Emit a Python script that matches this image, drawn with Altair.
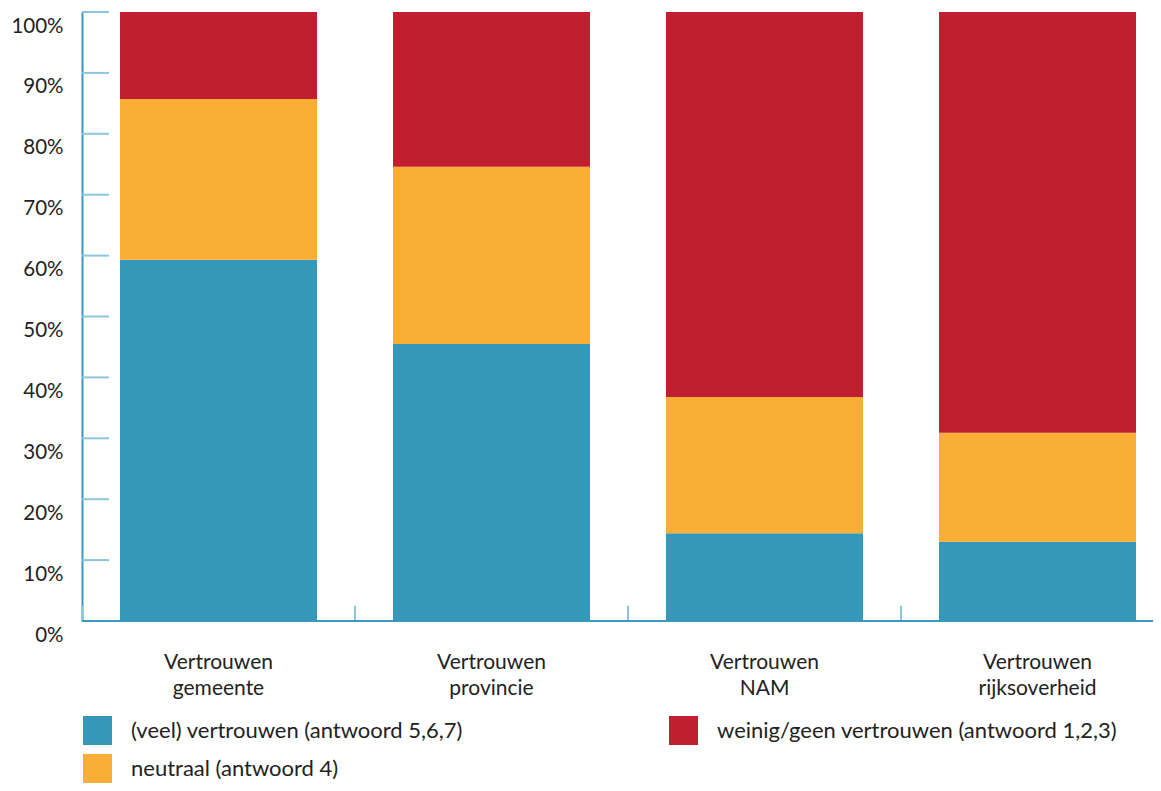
import altair as alt
import pandas as pd

categories = ["Vertrouwen gemeente", "Vertrouwen provincie", "Vertrouwen NAM", "Vertrouwen rijksoverheid"]
series = [
    "(veel) vertrouwen (antwoord 5,6,7)",
    "neutraal (antwoord 4)",
    "weinig/geen vertrouwen (antwoord 1,2,3)",
]
veel = [59.3, 45.5, 14.4, 13.0]
neutraal = [26.4, 29.1, 22.4, 17.9]
weinig = [14.3, 25.4, 63.2, 69.1]
series_colors = ["#3598bb", "#fbae36", "#c01f30"]
y_ticks = [0, 10, 20, 30, 40, 50, 60, 70, 80, 90, 100]

rows = []
for i, c in enumerate(categories):
    for j, vals in enumerate([veel, neutraal, weinig]):
        rows.append({"cat": c, "serie": series[j], "pct": vals[i], "stack": j})
df = pd.DataFrame(rows)

AXIS_BLUE = "#3a98c0"
TICK_BLUE = "#8cc6dd"
TEXT = "#222222"
FONT = "Lato"

PLOT_W = 1071
x_scale = alt.Scale(range=[0, 1092], paddingInner=0, paddingOuter=0)
y_scale = alt.Scale(domain=[0, 100])

bars = alt.Chart(df).mark_bar(width=alt.RelativeBandSize(197 / 273)).encode(
    x=alt.X(
        "cat:N",
        sort=categories,
        scale=x_scale,
        title=None,
        axis=alt.Axis(labelExpr="split(datum.label, ' ')"),
    ),
    y=alt.Y(
        "pct:Q",
        stack="zero",
        scale=y_scale,
        title=None,
        axis=alt.Axis(values=y_ticks, labelExpr="datum.value + '%'"),
    ),
    color=alt.Color(
        "serie:N",
        scale=alt.Scale(domain=series, range=series_colors),
        legend=alt.Legend(
            orient="none",
            legendX=1,
            legendY=704,
            columns=2,
            title=None,
            symbolType="square",
            symbolSize=841,
            symbolStrokeWidth=0,
            symbolOpacity=1,
            labelFontSize=22,
            labelFont=FONT,
            labelColor=TEXT,
            labelOffset=19,
            labelBaseline="middle",
            columnPadding=206,
            rowPadding=9,
            labelLimit=600,
            padding=0,
        ),
    ),
    order=alt.Order("stack:Q", sort="ascending"),
)

ytick_df = pd.DataFrame({"tick": y_ticks})
yticks = alt.Chart(ytick_df).mark_rule(color=TICK_BLUE, strokeWidth=2).encode(
    y=alt.Y("tick:Q", scale=y_scale, title=None),
    x=alt.value(0),
    x2=alt.value(27),
)

xtick_df = pd.DataFrame({"cat": categories})
xticks = alt.Chart(xtick_df).mark_rule(color=TICK_BLUE, strokeWidth=2).encode(
    x=alt.X("cat:N", sort=categories, bandPosition=0, title=None),
    y=alt.Y(datum=0, scale=y_scale, title=None),
    y2=alt.datum(2.5),
)

baseline = alt.Chart(xtick_df).mark_rule(color=AXIS_BLUE, strokeWidth=2).encode(
    y=alt.Y(datum=0, scale=y_scale, title=None),
    x=alt.value(0),
    x2=alt.value(PLOT_W),
)

chart = (
    alt.layer(yticks, xticks, baseline, bars)
    .properties(
        width=PLOT_W,
        height=609,
        padding={"left": 74, "top": 4, "right": 0, "bottom": 162},
        autosize=alt.AutoSizeParams(type="none"),
        background="white",
    )
    .configure(font=FONT)
    .configure_view(stroke=None)
    .configure_axisX(
        ticks=False,
        domain=False,
        grid=False,
        labelFontSize=21,
        labelLineHeight=26,
        labelBaseline="top",
        labelPadding=30,
        labelColor=TEXT,
        labelFont=FONT,
        labelAngle=0,
    )
    .configure_axisY(
        ticks=False,
        domain=True,
        domainColor=AXIS_BLUE,
        domainWidth=2,
        grid=False,
        labelFontSize=20.5,
        labelColor=TEXT,
        labelFont=FONT,
        labelPadding=19,
        labelBaseline="alphabetic",
        labelOffset=20,
        labelFlush=False,
        labelOverlap=False,
    )
)

chart.save("out.html", embed_options={"renderer": "svg", "actions": False})
